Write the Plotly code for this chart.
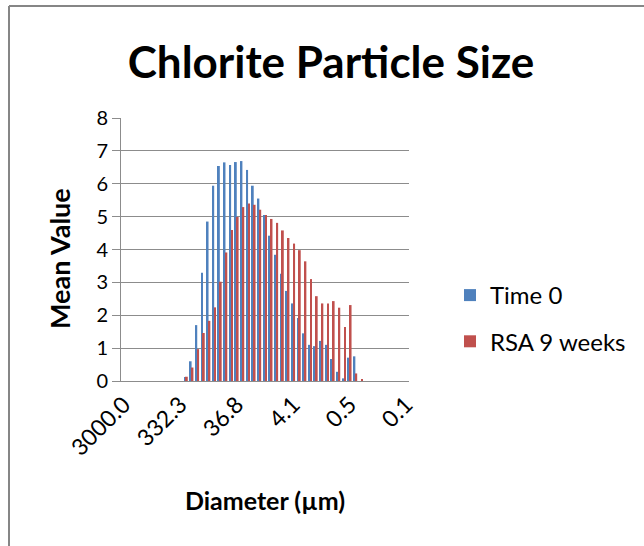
import plotly.graph_objects as go

# Size-class index (coarse -> fine); tick labels mark every 10th class
bins = list(range(51))
tick_pos = [0, 10, 20, 30, 40, 50]
tick_labels = ["3000.0", "332.3", "36.8", "4.1", "0.5", "0.1"]

time0 = [0] * 11 + [
    0.12, 0.60, 1.70, 3.29, 4.85, 5.94, 6.54, 6.65, 6.57, 6.66,
    6.69, 6.42, 5.94, 5.55, 5.05, 4.42, 3.84, 3.26, 2.74, 2.36,
    1.92, 1.45, 1.10, 1.06, 1.22, 1.10, 0.67, 0.28, 0.08, 0.71,
    0.75,
] + [0] * 9

rsa9 = [0] * 11 + [
    0.13, 0.41, 0.97, 1.46, 1.83, 2.24, 3.02, 3.91, 4.59, 4.99,
    5.29, 5.40, 5.36, 5.21, 5.05, 4.93, 4.81, 4.58, 4.35, 4.18,
    3.98, 3.64, 3.10, 2.58, 2.36, 2.36, 2.43, 2.23, 1.64, 2.31,
    0.23, 0.05,
] + [0] * 8

FONT = "Lato"
GRID = "#8c8c8c"

fig = go.Figure()
fig.add_trace(go.Bar(x=bins, y=time0, name="Time 0", marker_color="#4F81BD",
                     marker_line_width=0, legendgroup="a"))
fig.add_trace(go.Bar(x=bins, y=rsa9, name="RSA 9 weeks", marker_color="#C0504D",
                     marker_line_width=0, legendgroup="b"))

W, H = 644, 546
L, R, T, B = 121, 409, 118, 381
pw, ph = R - L, B - T

def px(xp):
    return (xp - L) / pw

def py(yp):
    return (B - yp) / ph

fig.update_layout(
    width=W, height=H,
    margin=dict(l=L, r=W - R, t=T, b=H - B, pad=0),
    paper_bgcolor="white", plot_bgcolor="white",
    barmode="group", bargap=0.35, bargroupgap=0,
    font=dict(family=FONT, color="#000000"),
    title=dict(text="<b>Chlorite Particle Size</b>", x=331 / W, xanchor="center",
               y=1 - 63 / H, yanchor="middle",
               font=dict(family=FONT, size=44, color="#000000")),
    xaxis=dict(range=[-0.5, 50.5], tickmode="array", tickvals=tick_pos,
               ticktext=tick_labels, tickangle=-45, showgrid=False,
               showline=True, linecolor=GRID, linewidth=1, ticks="",
               tickfont=dict(family=FONT, size=23),
               title=dict(text="<b>Diameter (µm)</b>", standoff=32,
                          font=dict(family=FONT, size=25))),
    yaxis=dict(range=[0, 8], dtick=1, showgrid=True, gridcolor=GRID,
               gridwidth=1, showline=True, linecolor=GRID, linewidth=1,
               ticks="outside", ticklen=8, tickcolor=GRID,
               tickfont=dict(family=FONT, size=20), zeroline=False),
    legend=dict(x=px(450), xanchor="left", y=py(273), yanchor="top",
                font=dict(family=FONT, size=24), traceorder="grouped",
                tracegroupgap=12, bgcolor="rgba(0,0,0,0)"),
    annotations=[
        dict(text="<b>Mean Value</b>", xref="paper", yref="paper",
             x=px(59), y=py(259), xanchor="center", yanchor="middle",
             textangle=-90, showarrow=False,
             font=dict(family=FONT, size=27, color="#000000")),
    ],
    shapes=[
        dict(type="line", xref="paper", yref="paper", x0=px(9), x1=px(9),
             y0=py(6), y1=py(H + 5), line=dict(color="#868686", width=2)),
        dict(type="line", xref="paper", yref="paper", x0=px(9), x1=px(W + 5),
             y0=py(6), y1=py(6), line=dict(color="#868686", width=2)),
    ],
)

fig.write_html("out.html")
